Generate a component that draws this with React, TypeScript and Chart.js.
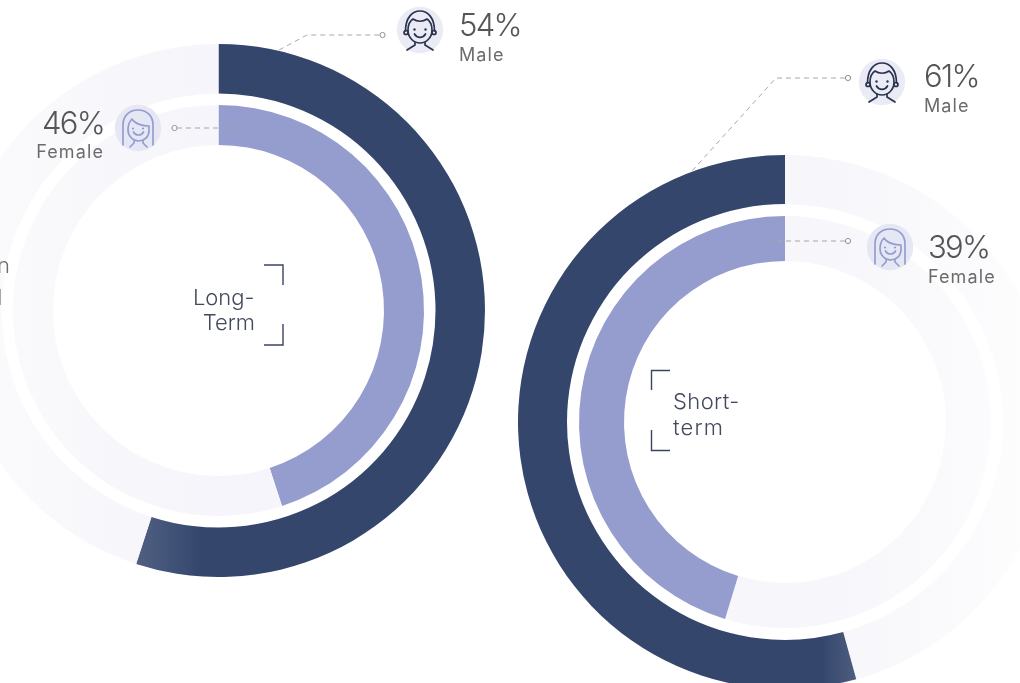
import React, { useEffect, useRef } from "react";
import { Chart, registerables } from "chart.js";

Chart.register(...registerables);

// Arc shares as drawn in the picture (clockwise from 12 o'clock)
const longTermMaleArc = [55, 45];
const longTermFemaleArc = [45, 55];
const shortTermMaleArc = [45.7, 54.3];
const shortTermFemaleArc = [54.7, 45.3];
const sliceNames = ["Share", "Rest"];
const spacerArc = [1];

const DARK = "#34466b";
const LAV = "#959dce";
const FONT = "Inter, 'Noto Sans', sans-serif";

type RingSpec = {
  left: number; top: number; size: number; cutout: number;
  weights: number[];
  outer: number[]; inner: number[];
  colors: (g: CanvasRenderingContext2D) => { outer: (string | CanvasGradient)[]; inner: (string | CanvasGradient)[] };
};

function grad(c: CanvasRenderingContext2D, x0: number, x1: number, stops: [number, string][]) {
  const g = c.createLinearGradient(x0, 0, x1, 0);
  stops.forEach(([o, col]) => g.addColorStop(o, col));
  return g;
}

const longSpec: RingSpec = {
  left: -48, top: 44, size: 533, cutout: 165.5,
  weights: [49.5, 11.5, 40],
  outer: longTermMaleArc, inner: longTermFemaleArc,
  colors: (c) => {
    const fade = () => grad(c, 0, 266, [[0, "#fbfbfd"], [0.4, "#f9f9fc"], [0.75, "#f6f6fb"], [1, "#f6f5fb"]]);
    const dark = grad(c, 184, 250, [[0, "#515f80"], [0.45, "#44557a"], [1, DARK]]);
    return { outer: [dark, fade()], inner: [LAV, fade()] };
  },
};

const shortSpec: RingSpec = {
  left: 518, top: 155, size: 534, cutout: 161,
  weights: [49, 12, 45],
  outer: shortTermMaleArc, inner: shortTermFemaleArc,
  colors: (c) => {
    const fade = () => grad(c, 267, 510, [[0, "#f6f6fb"], [0.5, "#f9f9fc"], [1, "#fdfdfe"]]);
    const dark = grad(c, 304, 338, [[0, DARK], [0.3, "#3c4e72"], [1, "#4e5d80"]]);
    return { outer: [fade(), dark], inner: [fade(), LAV] };
  },
};

function Ring({ spec }: { spec: RingSpec }) {
  const ref = useRef<HTMLCanvasElement>(null);
  useEffect(() => {
    const canvas = ref.current!;
    const c = canvas.getContext("2d")!;
    const col = spec.colors(c);
    const chart = new Chart(canvas, {
      type: "doughnut",
      data: {
        labels: sliceNames,
        datasets: [
          { data: spec.outer, backgroundColor: col.outer, weight: spec.weights[0], borderWidth: 0 },
          { data: spacerArc, backgroundColor: "rgba(0,0,0,0)", weight: spec.weights[1], borderWidth: 0 },
          { data: spec.inner, backgroundColor: col.inner, weight: spec.weights[2], borderWidth: 0 },
        ],
      },
      options: {
        responsive: false,
        animation: false,
        devicePixelRatio: 1,
        cutout: spec.cutout,
        rotation: 0,
        layout: { padding: 0 },
        plugins: { legend: { display: false }, tooltip: { enabled: false } },
      },
    });
    return () => chart.destroy();
  }, [spec]);
  return (
    <canvas
      ref={ref}
      width={spec.size}
      height={spec.size}
      style={{ position: "absolute", left: spec.left, top: spec.top, width: spec.size, height: spec.size }}
    />
  );
}

function MaleIcon({ x, y }: { x: number; y: number }) {
  return (
    <g transform={`translate(${x} ${y})`}>
      <circle r={23.2} fill="#ebebf6" />
      <g fill="none" stroke="#2a3350" strokeWidth={1.7} strokeLinecap="round" strokeLinejoin="round">
        <path d="M-14.5 1C-14.5 -12 -8 -19 0 -19C8 -19 14.5 -12 14.5 1" />
        <path d="M-12 0C-12 -5 -10 -9 -7 -11C-3 -8 3 -8 7 -11C10 -9 12 -5 12 0C12 8 6 13 0 13C-6 13 -12 8 -12 0Z" />
        <circle cx={-14} cy={2.5} r={2} />
        <circle cx={14} cy={2.5} r={2} />
        <path d="M-5.5 4C-3 8.5 3 8.5 5.5 4" />
        <path d="M-5 12V15L-13 20M5 12V15L13 20" />
      </g>
      <circle cx={-5.5} cy={-0.5} r={1.2} fill="#2a3350" />
      <circle cx={5.5} cy={-0.5} r={1.2} fill="#2a3350" />
    </g>
  );
}

function FemaleIcon({ x, y }: { x: number; y: number }) {
  return (
    <g transform={`translate(${x} ${y})`}>
      <circle r={23.2} fill="#e6e7f5" />
      <g fill="none" stroke="#959dce" strokeWidth={1.7} strokeLinecap="round" strokeLinejoin="round">
        <path d="M-15 17V-3C-15 -12 -9 -18 0 -18C9 -18 15 -12 15 -3V17" />
        <path d="M-10 2C-10 -3 -8 -7 -6 -9C-3 -4 5 -2 11 -2V3C11 9 6 13 0.5 13C-5 13 -10 8 -10 2Z" />
        <path d="M-4.5 4C-2.5 8 3.5 8 5.5 4" />
        <path d="M-4 13V15L-8 19M5 13V15L9 19" />
      </g>
      <circle cx={-5} cy={0.5} r={1.1} fill="#959dce" />
      <circle cx={5} cy={0.5} r={1.1} fill="#959dce" />
    </g>
  );
}

function Leader({ d, cx, cy }: { d: string; cx: number; cy: number }) {
  return (
    <g>
      <path d={d} fill="none" stroke="#aaa89e" strokeWidth={1} strokeDasharray="5 4" />
      <circle cx={cx} cy={cy} r={2.6} fill="#fff" stroke="#8f8f8f" strokeWidth={1} />
    </g>
  );
}

const valueStyle = { fontFamily: FONT, fontWeight: 300, fontSize: 31, fill: "#555555", letterSpacing: -1.7 } as const;
const nameStyle = { fontFamily: FONT, fontWeight: 400, fontSize: 18, fill: "#6b6b6b", letterSpacing: 1.1 } as const;
const titleStyle = { fontFamily: FONT, fontWeight: 300, fontSize: 22, fill: "#444a5e" } as const;
const bracket = { fill: "none", stroke: "#3b4460", strokeWidth: 1.4 };

export default function App() {
  useEffect(() => {
    document.body.style.margin = "0";
    document.body.style.overflow = "hidden";
  }, []);
  return (
    <div style={{ position: "fixed", left: 0, top: 0, width: 1020, height: 683, overflow: "hidden", background: "#fff" }}>
      <Ring spec={longSpec} />
      <Ring spec={shortSpec} />
      <svg width={1020} height={683} style={{ position: "absolute", left: 0, top: 0 }}>
        <Leader d="M279 50L307 35H380" cx={382.5} cy={35} />
        <Leader d="M177 128H236" cx={174.5} cy={128} />
        <Leader d="M845 78H776L692 171" cx={848} cy={78} />
        <Leader d="M845 241H771" cx={848} cy={241} />

        <MaleIcon x={420} y={30} />
        <FemaleIcon x={138} y={128} />
        <MaleIcon x={882} y={82} />
        <FemaleIcon x={890} y={247} />

        <text x={459} y={36} style={valueStyle}>54%</text>
        <text x={459} y={61} style={nameStyle}>Male</text>
        <text x={104} y={134} textAnchor="end" style={valueStyle}>46%</text>
        <text x={104} y={158} textAnchor="end" style={nameStyle}>Female</text>
        <text x={924} y={87} style={valueStyle}>61%</text>
        <text x={924} y={112} style={nameStyle}>Male</text>
        <text x={928} y={258} style={valueStyle}>39%</text>
        <text x={928} y={283} style={nameStyle}>Female</text>

        <text x={254.5} y={305} textAnchor="end" style={titleStyle}>Long-</text>
        <text x={255} y={330} textAnchor="end" style={titleStyle}>Term</text>
        <path d="M264 265H283V285M283 324V345H264" style={bracket} />

        <text x={673} y={409} style={{ ...titleStyle, letterSpacing: 0.4 }}>Short-</text>
        <text x={673} y={435} style={{ ...titleStyle, letterSpacing: 1.2 }}>term</text>
        <path d="M670 370.5H651.5V390M651.5 430V450.5H670" style={bracket} />

        <text x={10} y={273} textAnchor="end" style={{ ...titleStyle, fill: "#6b6b6b" }}>n</text>
        <text x={2.5} y={305} textAnchor="end" style={{ ...titleStyle, fill: "#6b6b6b" }}>l</text>
      </svg>
    </div>
  );
}
